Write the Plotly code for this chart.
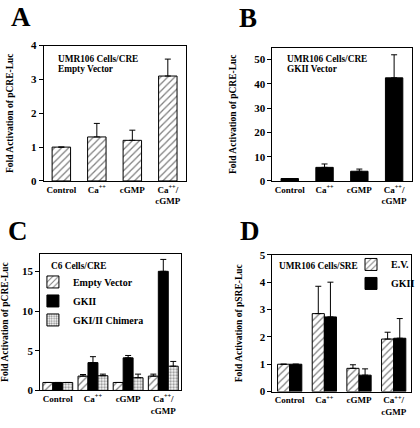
import plotly.graph_objects as go

# ---------------- data ----------------
categories = ["Control", "Ca++", "cGMP", "Ca++/cGMP"]
tick_labels = ["Control", "Ca<sup>++</sup>", "cGMP", "Ca<sup>++</sup>/<br>cGMP"]

a_values = [1.0, 1.3, 1.2, 3.1]
a_errors = [0.0, 0.4, 0.3, 0.5]

b_values = [1.0, 5.6, 4.0, 42.5]
b_errors = [0.0, 1.4, 0.9, 9.5]

c_empty_values = [1.0, 1.8, 1.0, 1.8]
c_empty_errors = [0.0, 0.2, 0.0, 0.25]
c_gkii_values = [1.0, 3.5, 4.1, 15.0]
c_gkii_errors = [0.0, 0.75, 0.3, 1.5]
c_chimera_values = [1.0, 1.85, 1.6, 3.05]
c_chimera_errors = [0.0, 0.2, 0.45, 0.6]

d_ev_values = [1.0, 2.85, 0.85, 1.92]
d_ev_errors = [0.0, 1.0, 0.13, 0.25]
d_gkii_values = [1.0, 2.73, 0.6, 1.95]
d_gkii_errors = [0.0, 1.27, 0.23, 0.72]

a_ticks = [0, 1, 2, 3, 4]
b_ticks = [0, 10, 20, 30, 40, 50]
c_ticks = [0, 5, 10, 15]
d_ticks = [0, 1, 2, 3, 4, 5]

# ---------------- style ----------------
FONT = "Liberation Serif"
W, H = 420, 428

hatch = dict(shape="/", fgcolor="black", bgcolor="white", size=5, solidity=0.25)
stipple = dict(shape=".", fgcolor="#222222", bgcolor="white", size=3, solidity=0.45)


def err(vals):
    return dict(type="data", symmetric=False, array=vals, arrayminus=[0] * len(vals),
                color="black", thickness=1, width=3)


def bar(values, errors, xa, ya, name, kind, width, offset, legend=None, show=False):
    if kind == "hatch":
        marker = dict(color="white", line=dict(color="black", width=1), pattern=hatch)
    elif kind == "stipple":
        marker = dict(color="white", line=dict(color="black", width=1), pattern=stipple)
    else:
        marker = dict(color="black", line=dict(color="black", width=1))
    return go.Bar(x=categories, y=values, error_y=err(errors), name=name,
                  xaxis=xa, yaxis=ya, marker=marker, width=width, offset=offset,
                  showlegend=show, legend=legend)


fig = go.Figure()
fig.add_trace(bar(a_values, a_errors, "x", "y", "Empty Vector", "hatch", 0.52, -0.26))
fig.add_trace(bar(b_values, b_errors, "x2", "y2", "GKII Vector", "solid", 0.5, -0.25))
cw = 0.283
fig.add_trace(bar(c_empty_values, c_empty_errors, "x3", "y3", "Empty Vector", "hatch", cw, -1.5 * cw, "legend", True))
fig.add_trace(bar(c_gkii_values, c_gkii_errors, "x3", "y3", "GKII", "solid", cw, -0.5 * cw, "legend", True))
fig.add_trace(bar(c_chimera_values, c_chimera_errors, "x3", "y3", "GKI/II Chimera", "stipple", cw, 0.5 * cw, "legend", True))
dw = 0.35
fig.add_trace(bar(d_ev_values, d_ev_errors, "x4", "y4", "E.V.", "hatch", dw, -dw, "legend2", True))
fig.add_trace(bar(d_gkii_values, d_gkii_errors, "x4", "y4", "GKII", "solid", dw, 0.0, "legend2", True))


def px_x(p):
    return p / W


def px_y(p):
    return 1 - p / H


def xaxis(domain, anchor):
    return dict(domain=domain, anchor=anchor, type="category", categoryarray=categories,
                range=[-0.5, 3.5], showline=True, mirror=True, linecolor="black", linewidth=1,
                ticks="", tickvals=categories, ticktext=tick_labels, showgrid=False, zeroline=False,
                tickfont=dict(family=FONT, size=9, color="black", weight="bold"), fixedrange=True)


def yaxis(domain, anchor, rng, ticks, title):
    return dict(domain=domain, anchor=anchor, range=rng, tickvals=ticks, ticks="outside", ticklen=4,
                tickcolor="black", tickwidth=1, showline=True, mirror=True, linecolor="black",
                linewidth=1, showgrid=False, zeroline=False,
                tickfont=dict(family=FONT, size=11, color="black", weight="bold"),
                title=dict(text=title, font=dict(family=FONT, size=9.5, color="black", weight="bold")),
                fixedrange=True)


fig.update_layout(
    width=W, height=H, margin=dict(l=0, r=0, t=0, b=0),
    paper_bgcolor="white", plot_bgcolor="white",
    barmode="overlay",
    font=dict(family=FONT, color="black"),
    xaxis=xaxis([px_x(42.7), px_x(185)], "y"),
    yaxis=yaxis([px_y(180), px_y(40.7)], "x", [0, 4], a_ticks, "Fold Activation of pCRE-Luc"),
    xaxis2=xaxis([px_x(272), px_x(411.5)], "y2"),
    yaxis2=yaxis([px_y(180), px_y(42.7)], "x2", [0, 55], b_ticks, "Fold Activation of pCRE-Luc"),
    xaxis3=xaxis([px_x(39.3), px_x(180.3)], "y3"),
    yaxis3=yaxis([px_y(395.5), px_y(255)], "x3", [0, 17.2], c_ticks, "Fold Activation of pCRE-Luc"),
    xaxis4=xaxis([px_x(272), px_x(411)], "y4"),
    yaxis4=yaxis([px_y(396.7), px_y(256)], "x4", [0, 5], d_ticks, "Fold Activation of pSRE-Luc"),
    legend=dict(x=px_x(32), y=px_y(269), xanchor="left", yanchor="top",
                bgcolor="rgba(0,0,0,0)", borderwidth=0, traceorder="normal",
                font=dict(family=FONT, size=10, color="black", weight="bold")),
    legend2=dict(x=1.0, y=px_y(251), xanchor="right", yanchor="top",
                 bgcolor="rgba(0,0,0,0)", borderwidth=0, traceorder="normal",
                 font=dict(family=FONT, size=10, color="black", weight="bold")),
)

annots = []
for letter, x, y in [("A", 8, 11), ("B", 237, 12), ("C", 5, 232), ("D", 238, 232)]:
    annots.append(dict(text=letter, x=px_x(x), y=px_y(y), xref="paper", yref="paper",
                       xanchor="left", yanchor="middle", showarrow=False,
                       font=dict(family=FONT, size=27, color="black", weight="bold")))

inner = [("UMR106 Cells/CRE", 55, 55), ("Empty Vector", 55, 65),
         ("UMR106 Cells/CRE", 285, 55), ("GKII Vector", 285, 65),
         ("C6 Cells/CRE", 48, 267), ("UMR106 Cells/SRE", 277, 267)]
for txt, x, y in inner:
    annots.append(dict(text=txt, x=px_x(x), y=px_y(y), xref="paper", yref="paper",
                       xanchor="left", yanchor="middle", showarrow=False,
                       font=dict(family=FONT, size=9.3, color="black", weight="bold")))
fig.update_layout(annotations=annots)

fig.write_html("out.html", config={"displayModeBar": False},
               post_script="document.body.style.margin='0';")
